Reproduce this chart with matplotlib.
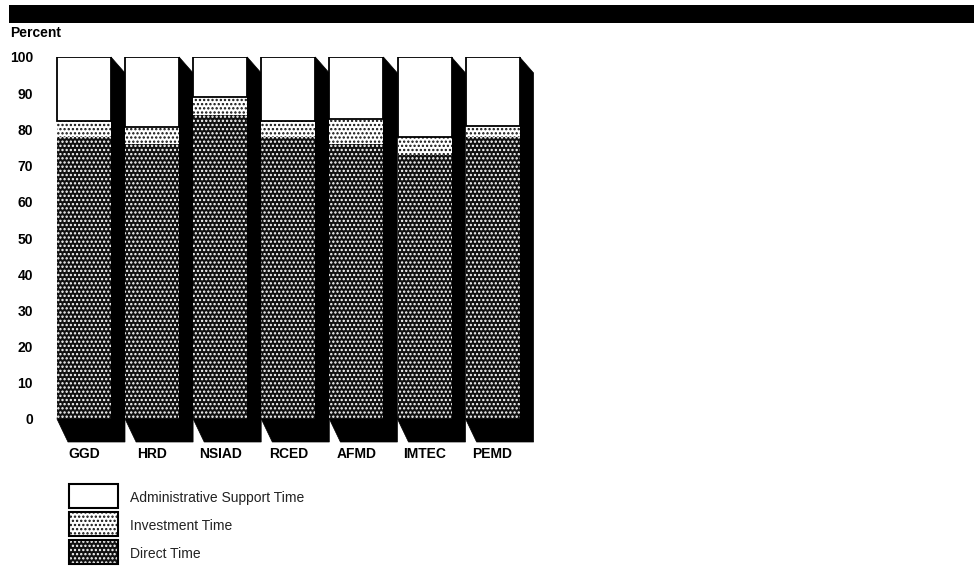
import matplotlib
matplotlib.use("Agg")
import matplotlib.pyplot as plt
from matplotlib.patches import Polygon, Rectangle

plt.rcParams["font.family"] = ["Liberation Sans", "DejaVu Sans"]
plt.rcParams["hatch.linewidth"] = 1.1

divisions = ["GGD", "HRD", "NSIAD", "RCED", "AFMD", "IMTEC", "PEMD"]
direct_time = [78, 76, 84, 78, 76, 73, 78]
investment_time = [4.4, 4.7, 5, 4.4, 7, 5, 3]
admin_time = [17.6, 19.3, 11, 17.6, 17, 22, 19]
y_ticks = list(range(0, 101, 10))
legend_labels = ["Administrative Support Time", "Investment Time", "Direct Time"]

W, H = 974, 566
PITCH = 68.1          # pixels between bars
BAR_PX = 54           # bar width in pixels
FIRST_CENTRE = 84     # x pixel of the first bar's centre
Y0_PX, Y100_PX = 419, 57
HATCH = "...."

fig = plt.figure(figsize=(W / 100, H / 100), dpi=100, facecolor="white")
overlay = fig.add_axes([0, 0, 1, 1])
overlay.set_xlim(0, W)
overlay.set_ylim(H, 0)
overlay.axis("off")

# Header band across the page
overlay.add_patch(Rectangle((9, 5), W - 9, 18, fc="black", ec="none"))
overlay.text(10, 33, "Percent", fontsize=10, fontweight="bold", va="center", ha="left")

# Axes placed so that one x unit is one bar pitch and y runs 0-100
left_px, right_px = 40, 550
ax = fig.add_axes([left_px / W, 1 - Y0_PX / H, (right_px - left_px) / W, (Y0_PX - Y100_PX) / H])
ax.set_xlim((left_px - FIRST_CENTRE) / PITCH, (right_px - FIRST_CENTRE) / PITCH)
ax.set_ylim(0, 100)
ax.patch.set_alpha(0)
for s in ax.spines.values():
    s.set_visible(False)

half = BAR_PX / PITCH / 2
dx = 14 / PITCH
dy_top = 16 / (Y0_PX - Y100_PX) * 100
dy_bot = 23 / (Y0_PX - Y100_PX) * 100
foot = 11 / PITCH

# Black drop shadow behind each column
for i in range(len(divisions)):
    ax.add_patch(Polygon(
        [(i + half, 100), (i + half + dx, 100 - dy_top), (i + half + dx, -dy_bot),
         (i - half + foot, -dy_bot), (i - half, 0)],
        closed=True, fc="black", ec="black", lw=0.5, clip_on=False, zorder=1))

x = list(range(len(divisions)))
ax.bar(x, direct_time, width=BAR_PX / PITCH, color="#111111", edgecolor="white",
       hatch=HATCH, lw=0, zorder=2)
ax.bar(x, investment_time, bottom=direct_time, width=BAR_PX / PITCH, color="white",
       edgecolor="#111111", hatch=HATCH, lw=0, zorder=2)
tops = [d + v for d, v in zip(direct_time, investment_time)]
ax.bar(x, admin_time, bottom=tops, width=BAR_PX / PITCH, color="white",
       edgecolor="black", lw=1.3, zorder=3)

ax.set_xticks(x)
ax.set_xticklabels(divisions, fontsize=10, fontweight="bold")
ax.set_yticks(y_ticks)
ax.set_yticklabels([str(t) for t in y_ticks], fontsize=10, fontweight="bold")
ax.tick_params(axis="both", length=0)
ax.tick_params(axis="x", pad=20.5)
ax.tick_params(axis="y", pad=5)

# Key below the chart
swatches = [("white", None, "black"), ("white", HATCH, "#111111"), ("#111111", HATCH, "white")]
key_tops = [484, 512, 540]
for (fc, hatch, hc), top, label in zip(swatches, key_tops, legend_labels):
    overlay.add_patch(Rectangle((69, top), 49, 24, fc=fc, ec=hc, hatch=hatch, lw=0))
    overlay.add_patch(Rectangle((69, top), 49, 24, fc="none", ec="black", lw=1.5))
    overlay.text(130, top + 14, label, fontsize=10, va="center", ha="left", color="#222222")

fig.savefig("out.png", dpi=100)
